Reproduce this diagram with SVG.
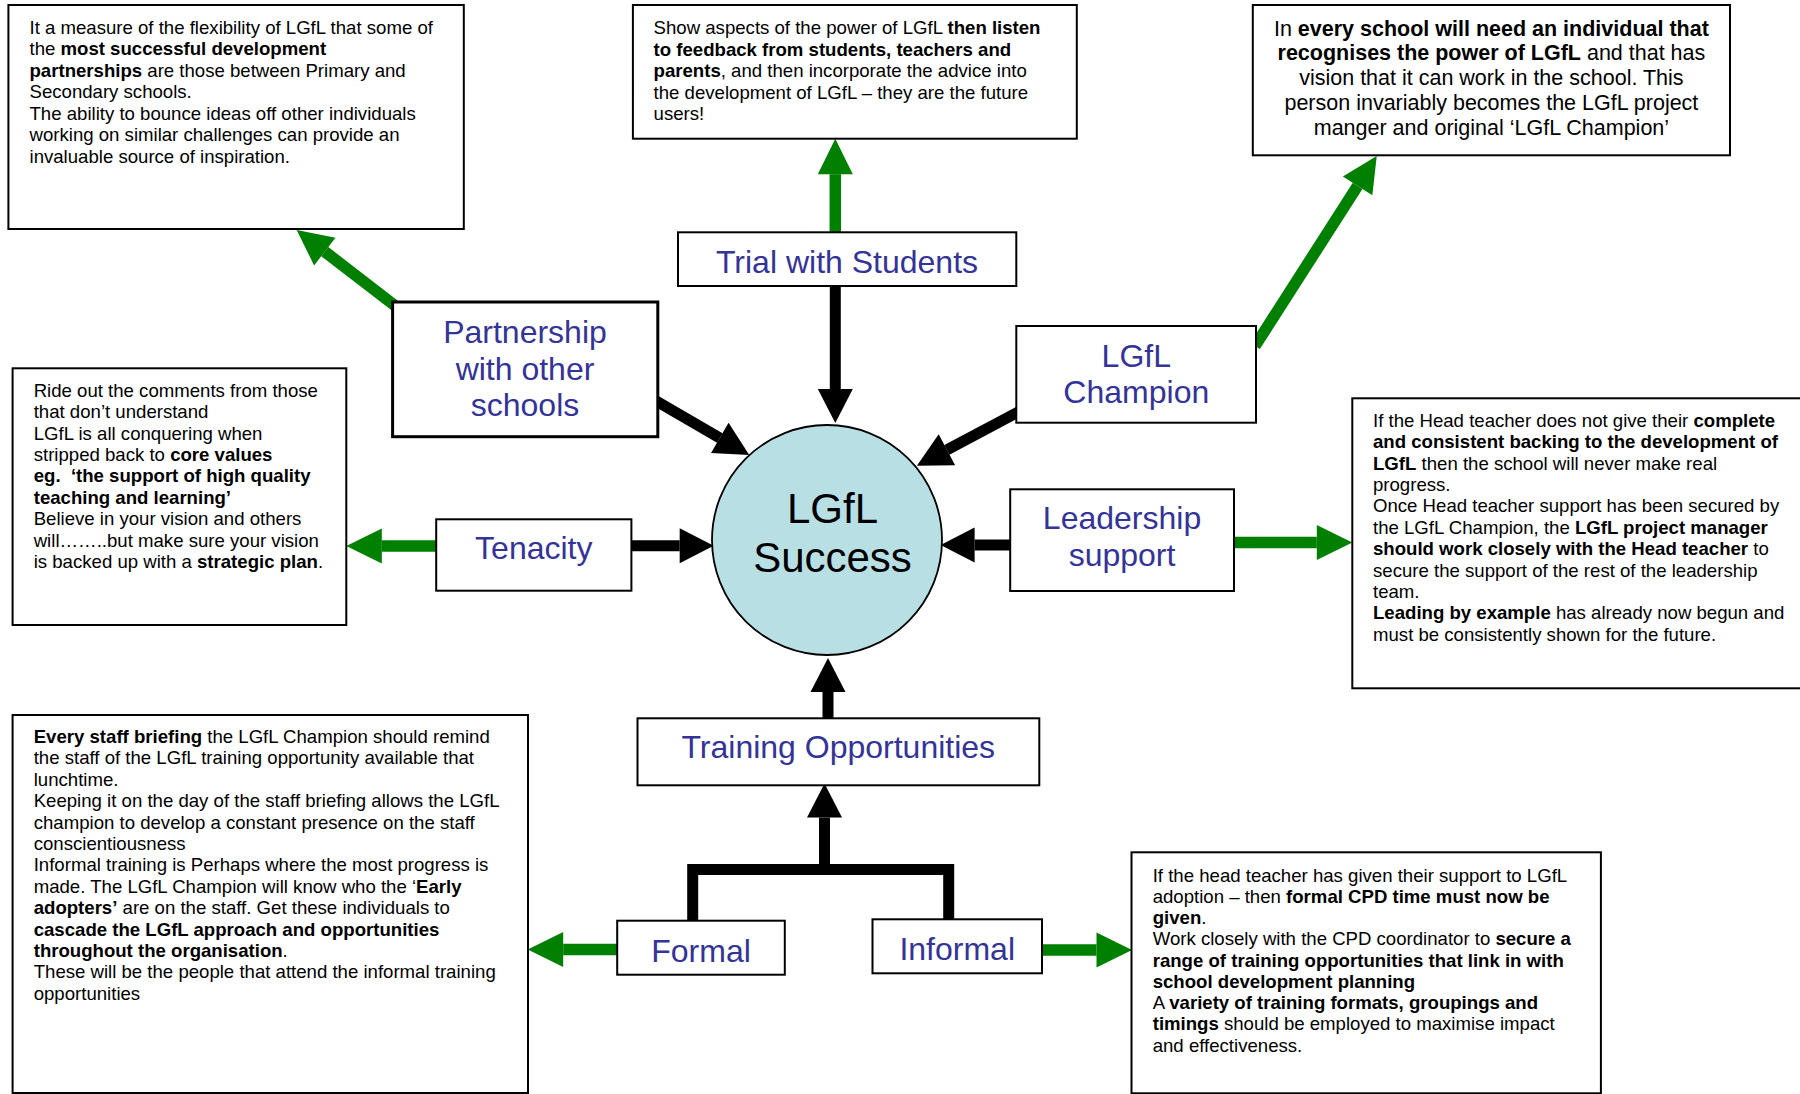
<svg xmlns="http://www.w3.org/2000/svg" width="1800" height="1094" viewBox="0 0 1800 1094">
<style>
.box{fill:#fff;stroke:#000;stroke-width:2}
.t{font-family:"Liberation Sans",Arial,sans-serif;font-size:18.6px;fill:#000}
.t3{font-family:"Liberation Sans",Arial,sans-serif;font-size:21.5px;fill:#000;text-anchor:middle}
.b{font-weight:bold}
.lbl{font-family:"Liberation Sans",Arial,sans-serif;font-size:32px;fill:#333399;text-anchor:middle}
.ctr{font-family:"Liberation Sans",Arial,sans-serif;font-size:42px;fill:#000;text-anchor:middle}
.blk{stroke:#000;stroke-width:11;fill:none}
.grn{stroke:#008000;stroke-width:11.5;fill:none}
</style>
<defs>
<marker id="hb" markerUnits="userSpaceOnUse" orient="auto" refX="0" refY="17.5" markerWidth="35" markerHeight="35" overflow="visible"><path d="M0,0 L34,17.5 L0,35 Z" fill="#000"/></marker>
<marker id="hg" markerUnits="userSpaceOnUse" orient="auto" refX="0" refY="17.5" markerWidth="36" markerHeight="35" overflow="visible"><path d="M0,0 L35.5,17.5 L0,35 Z" fill="#008000"/></marker>
</defs>
<rect width="1800" height="1094" fill="#fff"/>
<g id="connectors">
<line class="blk" x1="835.3" y1="284" x2="835.3" y2="389" marker-end="url(#hb)"/>
<line class="blk" x1="654" y1="399.8" x2="719.8" y2="437.9" marker-end="url(#hb)"/>
<line class="blk" x1="1020" y1="411" x2="946.9" y2="449.8" marker-end="url(#hb)"/>
<line class="blk" x1="628" y1="545.7" x2="679.7" y2="545.7" marker-end="url(#hb)"/>
<line class="blk" x1="1014" y1="545" x2="974.6" y2="545" marker-end="url(#hb)"/>
<line class="blk" x1="828" y1="722" x2="828" y2="692" marker-end="url(#hb)"/>
<path class="blk" d="M692.7,923 V869.5 H948.7 V922"/>
<line class="blk" x1="824.5" y1="870" x2="824.5" y2="817.5" marker-end="url(#hb)"/>
<line class="grn" x1="835.3" y1="236" x2="835.3" y2="174.2" marker-end="url(#hg)"/>
<line class="grn" x1="396" y1="306.5" x2="324.8" y2="251.6" marker-end="url(#hg)"/>
<line class="grn" x1="1255" y1="346" x2="1357.6" y2="185.9" marker-end="url(#hg)"/>
<line class="grn" x1="440" y1="546" x2="381.8" y2="546" marker-end="url(#hg)"/>
<line class="grn" x1="1230" y1="542.5" x2="1316.8" y2="542.5" marker-end="url(#hg)"/>
<line class="grn" x1="621" y1="949.5" x2="563.2" y2="949.5" marker-end="url(#hg)"/>
<line class="grn" x1="1038" y1="950" x2="1096.5" y2="950" marker-end="url(#hg)"/>
</g>
<g id="success">
<circle cx="827" cy="540" r="115" fill="#B8E0E4" stroke="#000" stroke-width="1.8"/>
<text class="ctr" x="832.5" y="523.3">LGfL</text>
<text class="ctr" x="832.5" y="571.7">Success</text>
</g>
<g id="trial">
<rect class="box" x="678" y="232.3" width="338.3" height="53.7"/>
<text class="lbl" x="847" y="272.7">Trial with Students</text>
</g>
<g id="partnership">
<rect class="box" x="392.6" y="302" width="265.2" height="134.7" style="stroke-width:3"/>
<text class="lbl" x="525" y="343">Partnership</text>
<text class="lbl" x="525" y="379.5">with other</text>
<text class="lbl" x="525" y="416">schools</text>
</g>
<g id="champion">
<rect class="box" x="1016.3" y="326" width="239.7" height="96.7"/>
<text class="lbl" x="1136.3" y="366.7">LGfL</text>
<text class="lbl" x="1136.3" y="402.7">Champion</text>
</g>
<g id="tenacity">
<rect class="box" x="436.2" y="519.3" width="195.2" height="71.4"/>
<text class="lbl" x="533.8" y="559.3">Tenacity</text>
</g>
<g id="leadership">
<rect class="box" x="1010.2" y="489.3" width="223.8" height="101.7"/>
<text class="lbl" x="1122" y="529.3">Leadership</text>
<text class="lbl" x="1122" y="565.5">support</text>
</g>
<g id="training">
<rect class="box" x="637.5" y="718.3" width="401.8" height="67"/>
<text class="lbl" x="838.3" y="758.3">Training Opportunities</text>
</g>
<g id="formal">
<rect class="box" x="617.2" y="920.7" width="167.6" height="54"/>
<text class="lbl" x="701" y="961.7">Formal</text>
</g>
<g id="informal">
<rect class="box" x="872.5" y="919.3" width="169.5" height="54"/>
<text class="lbl" x="957.2" y="960">Informal</text>
</g>
<g id="note-partnership">
<rect class="box" x="8.4" y="5" width="455.4" height="224"/>
<text class="t" x="29.5" y="33.5">It a measure of the flexibility of LGfL that some of</text>
<text class="t" x="29.5" y="55">the <tspan class="b">most successful development</tspan></text>
<text class="t" x="29.5" y="76.5"><tspan class="b">partnerships</tspan> are those between Primary and</text>
<text class="t" x="29.5" y="98">Secondary schools.</text>
<text class="t" x="29.5" y="119.5">The ability to bounce ideas off other individuals</text>
<text class="t" x="29.5" y="141">working on similar challenges can provide an</text>
<text class="t" x="29.5" y="162.5">invaluable source of inspiration.</text>
</g>
<g id="note-trial">
<rect class="box" x="632.9" y="5" width="443.9" height="133.7"/>
<text class="t" x="653.6" y="34">Show aspects of the power of LGfL <tspan class="b">then listen</tspan></text>
<text class="t b" x="653.6" y="55.5">to feedback from students, teachers and</text>
<text class="t" x="653.6" y="77"><tspan class="b">parents</tspan>, and then incorporate the advice into</text>
<text class="t" x="653.6" y="98.5">the development of LGfL – they are the future</text>
<text class="t" x="653.6" y="120">users!</text>
</g>
<g id="note-champion">
<rect class="box" x="1252.8" y="5" width="477.2" height="150.3"/>
<text class="t3" x="1491.4" y="35.5">In <tspan class="b">every school will need an individual that</tspan></text>
<text class="t3" x="1491.4" y="60.2"><tspan class="b">recognises the power of LGfL</tspan> and that has</text>
<text class="t3" x="1491.4" y="85">vision that it can work in the school. This</text>
<text class="t3" x="1491.4" y="109.7">person invariably becomes the LGfL project</text>
<text class="t3" x="1491.4" y="134.5">manger and original ‘LGfL Champion’</text>
</g>
<g id="note-tenacity">
<rect class="box" x="12.6" y="368.3" width="333.7" height="256.7"/>
<text class="t" x="33.7" y="396.7">Ride out the comments from those</text>
<text class="t" x="33.7" y="418.1">that don’t understand</text>
<text class="t" x="33.7" y="439.5">LGfL is all conquering when</text>
<text class="t" x="33.7" y="460.9">stripped back to <tspan class="b">core values</tspan></text>
<text class="t b" x="33.7" y="482.3" xml:space="preserve">eg.  ‘the support of high quality</text>
<text class="t b" x="33.7" y="503.7">teaching and learning’</text>
<text class="t" x="33.7" y="525.1">Believe in your vision and others</text>
<text class="t" x="33.7" y="546.5">will……..but make sure your vision</text>
<text class="t" x="33.7" y="567.9">is backed up with a <tspan class="b">strategic plan</tspan>.</text>
</g>
<g id="note-leadership">
<rect class="box" x="1352.3" y="398.3" width="460" height="290"/>
<text class="t" x="1373" y="426.7">If the Head teacher does not give their <tspan class="b">complete</tspan></text>
<text class="t b" x="1373" y="448.1">and consistent backing to the development of</text>
<text class="t" x="1373" y="469.5"><tspan class="b">LGfL</tspan> then the school will never make real</text>
<text class="t" x="1373" y="490.9">progress.</text>
<text class="t" x="1373" y="512.3">Once Head teacher support has been secured by</text>
<text class="t" x="1373" y="533.7">the LGfL Champion, the <tspan class="b">LGfL project manager</tspan></text>
<text class="t" x="1373" y="555.1"><tspan class="b">should work closely with the Head teacher</tspan> to</text>
<text class="t" x="1373" y="576.5">secure the support of the rest of the leadership</text>
<text class="t" x="1373" y="597.9">team.</text>
<text class="t" x="1373" y="619.3"><tspan class="b">Leading by example</tspan> has already now begun and</text>
<text class="t" x="1373" y="640.7">must be consistently shown for the future.</text>
</g>
<g id="note-formal">
<rect class="box" x="12.6" y="715" width="515.4" height="378"/>
<text class="t" x="33.7" y="743"><tspan class="b">Every staff briefing</tspan> the LGfL Champion should remind</text>
<text class="t" x="33.7" y="764.4">the staff of the LGfL training opportunity available that</text>
<text class="t" x="33.7" y="785.8">lunchtime.</text>
<text class="t" x="33.7" y="807.2">Keeping it on the day of the staff briefing allows the LGfL</text>
<text class="t" x="33.7" y="828.6">champion to develop a constant presence on the staff</text>
<text class="t" x="33.7" y="850">conscientiousness</text>
<text class="t" x="33.7" y="871.4">Informal training is Perhaps where the most progress is</text>
<text class="t" x="33.7" y="892.8">made. The LGfL Champion will know who the ‘<tspan class="b">Early</tspan></text>
<text class="t" x="33.7" y="914.2"><tspan class="b">adopters’</tspan> are on the staff. Get these individuals to</text>
<text class="t b" x="33.7" y="935.6">cascade the LGfL approach and opportunities</text>
<text class="t" x="33.7" y="957"><tspan class="b">throughout the organisation</tspan>.</text>
<text class="t" x="33.7" y="978.4">These will be the people that attend the informal training</text>
<text class="t" x="33.7" y="999.8">opportunities</text>
</g>
<g id="note-informal">
<rect class="box" x="1131.5" y="852.3" width="469.4" height="241"/>
<text class="t" x="1152.7" y="881.7">If the head teacher has given their support to LGfL</text>
<text class="t" x="1152.7" y="902.95">adoption – then <tspan class="b">formal CPD time must now be</tspan></text>
<text class="t" x="1152.7" y="924.2"><tspan class="b">given</tspan>.</text>
<text class="t" x="1152.7" y="945.45">Work closely with the CPD coordinator to <tspan class="b">secure a</tspan></text>
<text class="t b" x="1152.7" y="966.7">range of training opportunities that link in with</text>
<text class="t b" x="1152.7" y="987.95">school development planning</text>
<text class="t" x="1152.7" y="1009.2">A <tspan class="b">variety of training formats, groupings and</tspan></text>
<text class="t" x="1152.7" y="1030.45"><tspan class="b">timings</tspan> should be employed to maximise impact</text>
<text class="t" x="1152.7" y="1051.7">and effectiveness.</text>
</g>
</svg>
